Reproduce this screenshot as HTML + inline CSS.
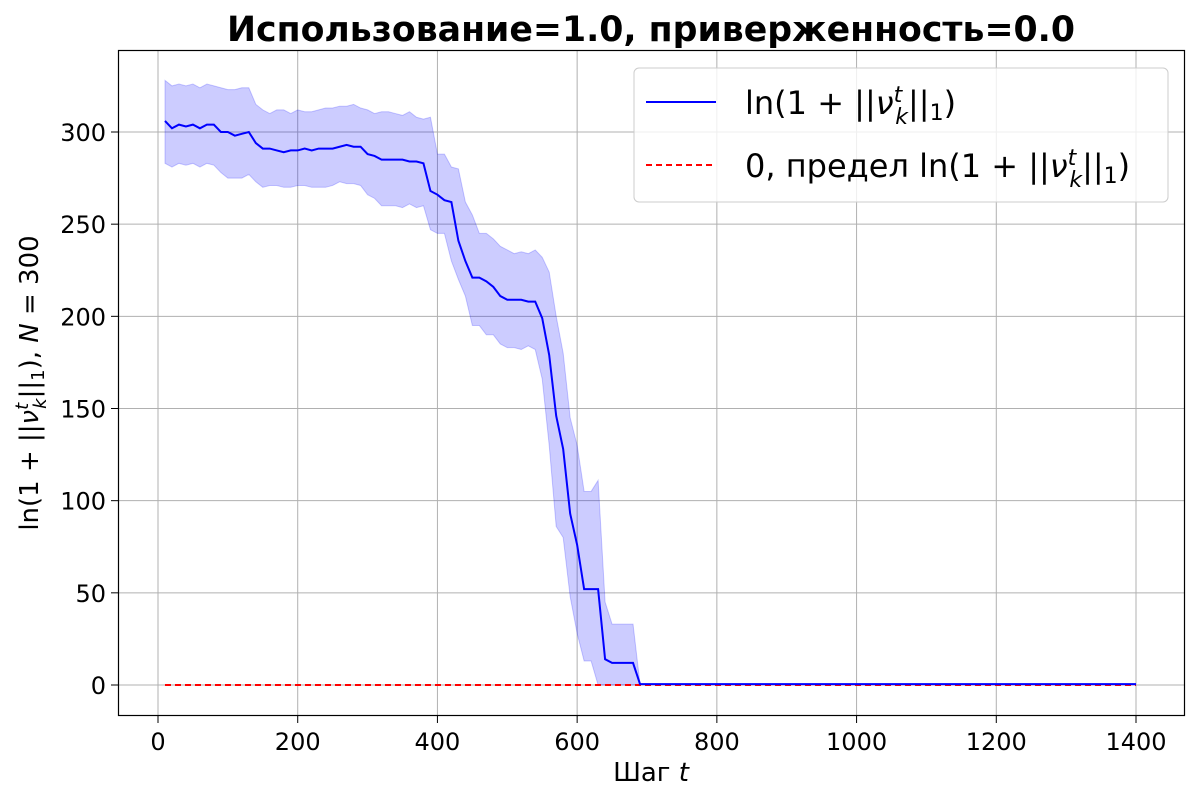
<!DOCTYPE html>
<html><head><meta charset="utf-8"><style>
body{margin:0;background:#fff;}
svg text{font-family:"DejaVu Sans","Liberation Sans",sans-serif;fill:#000;}
</style></head><body>
<svg id="chart" width="1200" height="800" xmlns="http://www.w3.org/2000/svg">
<rect x="0" y="0" width="1200" height="800" fill="#fff"/>
<g id="grid"></g>
<g id="marks"></g>
<rect x="118.5" y="50.5" width="1066" height="665" fill="none" stroke="#000" stroke-width="1.2"/>
<g id="ticks"></g>
<text x="651" y="41" font-size="34.7" font-weight="bold" text-anchor="middle">Использование=1.0, приверженность=0.0</text>
<text x="651" y="781" font-size="26" text-anchor="middle">Шаг <tspan font-style="italic">t</tspan></text>
<text transform="translate(38,383) rotate(-90)" font-size="26" text-anchor="middle">ln(1 + ||<tspan font-style="italic">ν</tspan><tspan font-size="18" font-style="italic" dy="-10">t</tspan><tspan font-size="18" font-style="italic" dx="-6" dy="18">k</tspan><tspan dy="-8">||</tspan><tspan font-size="18" dy="6">1</tspan><tspan dy="-6">), </tspan><tspan font-style="italic">N</tspan> = 300</text>
<g>
<rect x="634" y="68" width="534" height="134" rx="5" fill="#fff" fill-opacity="0.8" stroke="#ccc" stroke-width="1"/>
<line x1="646" y1="102" x2="716" y2="102" stroke="#0000ff" stroke-width="2"/>
<text x="745" y="114" font-size="32">ln(1 + ||<tspan font-style="italic">ν</tspan><tspan font-size="22" font-style="italic" dy="-12">t</tspan><tspan font-size="22" font-style="italic" dx="-7" dy="22">k</tspan><tspan dy="-10">||</tspan><tspan font-size="22" dy="6">1</tspan><tspan dy="-6">)</tspan></text>
<line x1="646" y1="165" x2="716" y2="165" stroke="#ff0000" stroke-width="2" stroke-dasharray="6,4"/>
<text x="745" y="177" font-size="32">0, предел ln(1 + ||<tspan font-style="italic">ν</tspan><tspan font-size="22" font-style="italic" dy="-12">t</tspan><tspan font-size="22" font-style="italic" dx="-7" dy="22">k</tspan><tspan dy="-10">||</tspan><tspan font-size="22" dy="6">1</tspan><tspan dy="-6">)</tspan></text>
</g>
</svg>
<script>
const meanHead=[306,302,304,303,304,302,304,304,300,300,298,299,300,294,291,291,290,289,290,290,291,290,291,291,291,292,293,292,292,288,287,285,285,285,285,284,284,283,268,266,263,262,241,230,221,221,219,216,211,209,209,209,208,208,199,179,146,128,93,76,52,52,52,14,12,12,12,12,0.5];
const upperHead=[328,325,326,325,326,324,326,325,324,323,323,324,324,315,312,310,312,312,310,312,311,311,312,313,313,314,314,315,313,312,310,311,311,310,309,311,308,307,308,288,288,281,280,262,255,245,245,242,238,236,234,235,234,236,232,224,200,180,145,130,105,105,111,45,33,33,33,33,0.5];
const lowerHead=[283,281,283,282,283,281,283,282,278,275,275,275,277,273,270,271,271,270,270,271,271,270,270,270,271,273,272,272,271,266,264,260,260,260,259,261,259,260,247,245,245,230,220,211,195,195,190,190,185,183,183,182,184,182,166,130,86,80,48,28,13,13,0,0,0,0,0,0,0.5];
const tailValue=0.5;
const xTicks=[0,200,400,600,800,1000,1200,1400];
const yTicks=[0,50,100,150,200,250,300];
const limitValue=[0];

const steps=[],mean=[],upper=[],lower=[];
for(let i=0;i<140;i++){const t=10+i*10;steps.push(t);
 if(i<meanHead.length){mean.push(meanHead[i]);upper.push(upperHead[i]);lower.push(lowerHead[i]);}
 else{mean.push(tailValue);upper.push(tailValue);lower.push(tailValue);}}
const X=v=>158+v*(1136-158)/1400;
const Y=v=>685-v*(685-132)/300;
const NS="http://www.w3.org/2000/svg";
function mk(tag,attrs,parent){const e=document.createElementNS(NS,tag);for(const k in attrs)e.setAttribute(k,attrs[k]);parent.appendChild(e);return e;}
const grid=document.getElementById('grid'),ticks=document.getElementById('ticks'),marks=document.getElementById('marks');
xTicks.forEach(v=>{const x=X(v);
 const g=mk('line',{x1:x,x2:x,y1:50,y2:716,stroke:'#b0b0b0','stroke-width':1},grid);
 
 
 mk('line',{x1:x,x2:x,y1:716,y2:723,stroke:'#000','stroke-width':1},ticks);
 const t=mk('text',{x:x,y:750,'font-size':24,'text-anchor':'middle'},ticks);t.textContent=v;
 
 });
yTicks.forEach(v=>{const y=Y(v);
 const g=mk('line',{x1:118,x2:1185,y1:y,y2:y,stroke:'#b0b0b0','stroke-width':1},grid);
 
 
 mk('line',{x1:111,x2:118,y1:y,y2:y,stroke:'#000','stroke-width':1},ticks);
 const t=mk('text',{x:106,y:y+9,'font-size':24,'text-anchor':'end'},ticks);t.textContent=v;
 
 });
let d='';steps.forEach((s,i)=>{d+=(i?'L':'M')+X(s)+','+Y(upper[i]);});
for(let i=steps.length-1;i>=0;i--)d+='L'+X(steps[i])+','+Y(lower[i]);d+='Z';
const band=mk('path',{d:d,fill:'#0000ff','fill-opacity':0.2,stroke:'#0000ff','stroke-opacity':0.2,'stroke-width':1},marks);


const lim=mk('line',{x1:X(steps[0]),x2:X(steps[steps.length-1]),y1:Y(limitValue[0]),y2:Y(limitValue[0]),stroke:'#ff0000','stroke-width':2,'stroke-dasharray':'6,4'},marks);


const pl=mk('polyline',{points:steps.map((s,i)=>X(s)+','+Y(mean[i])).join(' '),fill:'none',stroke:'#0000ff','stroke-width':2},marks);


</script>
</body></html>
